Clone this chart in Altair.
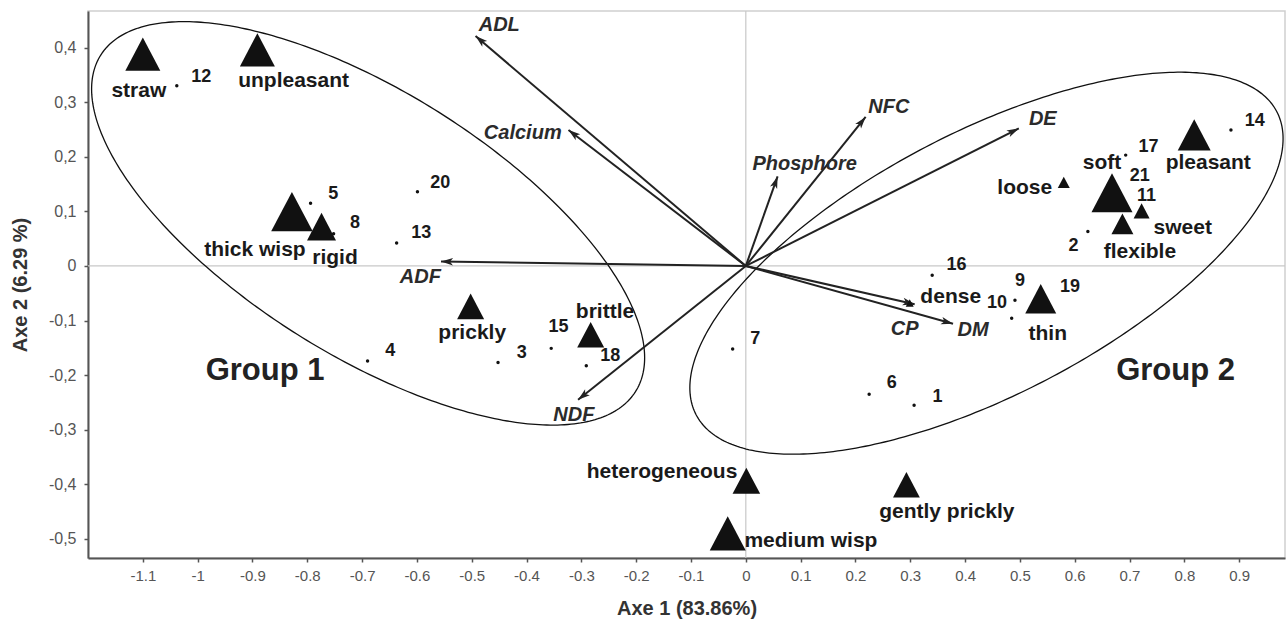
import altair as alt
import numpy as np
import pandas as pd

# ---------------- data ----------------
# observations (numbered hay samples)
obs_id = ["12", "5", "8", "20", "13", "4", "3", "15", "18", "7", "6", "1",
          "16", "9", "10", "19", "14", "17", "21", "11", "2"]
obs_x = [-1.038, -0.794, -0.752, -0.599, -0.637, -0.690, -0.452, -0.355, -0.291,
         -0.024, 0.225, 0.307, 0.340, 0.491, 0.485, 0.546, 0.885, 0.693, 0.675,
         0.692, 0.624]
obs_y = [0.330, 0.115, 0.059, 0.136, 0.042, -0.174, -0.177, -0.151, -0.183,
         -0.152, -0.235, -0.255, -0.017, -0.063, -0.096, -0.066, 0.249, 0.203,
         0.143, 0.115, 0.063]

# sensory descriptors (triangles)
desc = ["straw", "unpleasant", "thick wisp", "rigid", "prickly", "brittle",
        "loose", "soft", "pleasant", "sweet", "flexible", "dense", "thin",
        "heterogeneous", "gently prickly", "medium wisp"]
desc_x = [-1.100, -0.891, -0.828, -0.774, -0.502, -0.283, 0.580, 0.668, 0.818,
          0.722, 0.687, 0.299, 0.538, 0.001, 0.293, -0.033]
desc_y = [0.388, 0.396, 0.0995, 0.072, -0.074, -0.126, 0.153, 0.134, 0.240,
          0.101, 0.077, -0.068, -0.060, -0.3935, -0.401, -0.490]

# chemical variables (arrows from origin)
var_name = ["ADL", "Calcium", "ADF", "NDF", "Phosphore", "NFC", "DE", "CP", "DM"]
var_x = [-0.493, -0.3235, -0.556, -0.306, 0.058, 0.2186, 0.498, 0.308, 0.378]
var_y = [0.421, 0.249, 0.008, -0.245, 0.164, 0.273, 0.252, -0.070, -0.106]

# group ellipses: centre, semi-axes, rotation (deg)
grp_name = ["Group 1", "Group 2"]
ell_cx = [-0.689, 0.439]
ell_cy = [0.078, 0.005]
ell_a = [0.577, 0.598]
ell_b = [0.241, 0.240]
ell_ang = [-32.3, 27.7]
grp_lab_x = [-0.877, 0.784]
grp_lab_y = [-0.192, -0.192]

x_ticks = [-1.1, -1.0, -0.9, -0.8, -0.7, -0.6, -0.5, -0.4, -0.3, -0.2, -0.1,
           0.0, 0.1, 0.2, 0.3, 0.4, 0.5, 0.6, 0.7, 0.8, 0.9]
y_ticks = [-0.5, -0.4, -0.3, -0.2, -0.1, 0.0, 0.1, 0.2, 0.3, 0.4]

# ---------------- layout / styles ----------------
W, H = 1197, 547
XMIN, XMAX = -1.2, 0.9836
YMIN, YMAX = -0.535, 0.467
PX_X = W / (XMAX - XMIN)
PX_Y = H / (YMAX - YMIN)

# label offsets in pixels (right, down) from the mark
obs_dx = [24.5, 22.7, 21.5, 22.7, 24.7, 22.8, 23.7, 7.4, 23.9, 22.7, 22.5, 23.5,
          24.3, 5, -14.7, 25, 23.7, 22.8, 24, 21.3, -14.4]
obs_dy = [-9, -9, -11, -9, -10, -10, -10, -21, -10, -9.7, -11, -8.6,
          -10, -19, -15.3, -15.3, -9.3, -8.3, -11.5, -7.5, 14.3]
desc_dx = [-4, 36.2, -37, 13.5, 1.6, 14.3, -39, -10, 14, 41.2, 17.5, 41, 7,
           -84.3, 40.4, 83.2]
desc_dy = [37, 31, 38.3, 31.6, 26.8, -22.3, 5.5, -29.7, 28.3, 17.6, 27.7, -6.3,
           35, -9.1, 26.7, 7.4]
tri_w = [35, 35, 41.5, 29, 27, 27, 12, 41, 33, 16, 22, 8, 31, 27.6, 26.8, 36]
var_dx = [23.7, -45.7, -20.7, -4.2, 27, 23.2, 24, -10, 20]
var_dy = [-11, 2.7, 15, 15, -12.7, -10, -9, 25, 6]

FONT = "Liberation Sans"
INK = "#1a1a1a"

# ---------------- tables ----------------
obs = pd.DataFrame({"id": obs_id, "x": obs_x, "y": obs_y})
obs["lx"] = obs["x"] + np.array(obs_dx) / PX_X
obs["ly"] = obs["y"] - np.array(obs_dy) / PX_Y

dsc = pd.DataFrame({"name": desc, "x": desc_x, "y": desc_y,
                    "size": np.array(tri_w) ** 2})
dsc["lx"] = dsc["x"] + np.array(desc_dx) / PX_X
dsc["ly"] = dsc["y"] - np.array(desc_dy) / PX_Y

var = pd.DataFrame({"name": var_name, "x": var_x, "y": var_y})
var["x0"] = 0.0
var["y0"] = 0.0
var["ang"] = (np.degrees(np.arctan2(var["x"] * PX_X, var["y"] * PX_Y)) + 360) % 360
var["lx"] = var["x"] + np.array(var_dx) / PX_X
var["ly"] = var["y"] - np.array(var_dy) / PX_Y

rows = []
t = np.linspace(0, 2 * np.pi, 361)
for g, cx, cy, a, b, th in zip(grp_name, ell_cx, ell_cy, ell_a, ell_b, ell_ang):
    r = np.radians(th)
    u, v = a * np.cos(t), b * np.sin(t)
    ex = cx + u * np.cos(r) - v * np.sin(r)
    ey = cy + u * np.sin(r) + v * np.cos(r)
    for i, (px, py) in enumerate(zip(ex, ey)):
        rows.append({"g": g, "i": i, "x": px, "y": py})
ell = pd.DataFrame(rows)

grp = pd.DataFrame({"name": grp_name, "x": grp_lab_x, "y": grp_lab_y})
zero = pd.DataFrame({"v": [0.0]})

# ---------------- scales & axes ----------------
xs = alt.Scale(domain=[XMIN, XMAX], nice=False, zero=False)
ys = alt.Scale(domain=[YMIN, YMAX], nice=False, zero=False)
xaxis = alt.Axis(values=x_ticks, grid=False, title="Axe 1 (83.86%)",
                 labelExpr="replace(format(datum.value, '.2~f'), '\u2212', '-')",
                 labelFont=FONT, labelFontSize=15, labelColor="#555",
                 labelPadding=6, tickSize=4, tickColor="#555", tickWidth=1.5,
                 domainColor="#555", domainWidth=2,
                 titleFont=FONT, titleFontSize=20, titleFontWeight="bold",
                 titleColor="#333", titleBaseline="middle", titleY=50)
yaxis = alt.Axis(values=y_ticks, grid=False, title="Axe 2 (6.29 %)",
                 labelExpr="replace(replace(format(datum.value, '.1~f'), '\u2212', '-'), '.', ',')",
                 labelFont=FONT, labelFontSize=16, labelColor="#555",
                 labelPadding=8, tickSize=4, tickColor="#555", tickWidth=1.5,
                 domainColor="#555", domainWidth=2,
                 titleFont=FONT, titleFontSize=20, titleFontWeight="bold",
                 titleColor="#333", titleBaseline="middle", titleX=-68)


def X(f):
    return alt.X(f, type="quantitative", scale=xs, axis=xaxis)


def Y(f):
    return alt.Y(f, type="quantitative", scale=ys, axis=yaxis)


vline = alt.Chart(zero).mark_rule(color="#c8c8c8", strokeWidth=1.2).encode(x=X("v"))
hline = alt.Chart(zero).mark_rule(color="#c8c8c8", strokeWidth=1.2).encode(y=Y("v"))

ellipses = alt.Chart(ell).mark_line(color="#111", strokeWidth=1.3).encode(
    x=X("x"), y=Y("y"), detail="g:N", order="i:Q")

arrows = alt.Chart(var).mark_rule(color="#222", strokeWidth=2).encode(
    x=X("x0"), y=Y("y0"), x2="x", y2="y")
heads = alt.Chart(var).mark_point(
    shape="M0,0L-0.75,2.4L0,1.8L0.75,2.4Z", filled=True, opacity=1,
    color="#222", size=100).encode(
    x=X("x"), y=Y("y"), angle=alt.Angle("ang:Q", scale=None))

dots = alt.Chart(obs).mark_circle(color="#111", size=12, opacity=1).encode(
    x=X("x"), y=Y("y"))
tris = alt.Chart(dsc).mark_point(
    shape="M0,-0.95L1,0.95L-1,0.95Z", filled=True, opacity=1, color="#111").encode(
    x=X("x"), y=Y("y"), size=alt.Size("size:Q", scale=None))

obs_txt = alt.Chart(obs).mark_text(font=FONT, fontSize=18, fontWeight="bold",
                                   color=INK, align="center", baseline="middle").encode(
    x=X("lx"), y=Y("ly"), text="id:N")
dsc_txt = alt.Chart(dsc).mark_text(font=FONT, fontSize=21, fontWeight="bold",
                                   color=INK, align="center", baseline="middle").encode(
    x=X("lx"), y=Y("ly"), text="name:N")
var_txt = alt.Chart(var).mark_text(font=FONT, fontSize=20, fontWeight="bold",
                                   fontStyle="italic", color="#2b2b2b",
                                   align="center", baseline="middle").encode(
    x=X("lx"), y=Y("ly"), text="name:N")
grp_txt = alt.Chart(grp).mark_text(font=FONT, fontSize=31, fontWeight="bold",
                                   color="#222", align="center",
                                   baseline="middle").encode(
    x=X("x"), y=Y("y"), text="name:N")

chart = alt.layer(
    vline, hline, ellipses, arrows, heads, dots, tris,
    obs_txt, dsc_txt, var_txt, grp_txt
).properties(
    width=W, height=H,
    autosize=alt.AutoSizeParams(type="none"),
    padding={"left": 88, "top": 11, "right": 1, "bottom": 65},
    background="white",
).configure_view(stroke="#cfcfcf", strokeWidth=1.5)

chart.save("out.html", embed_options={"renderer": "svg", "actions": False})
